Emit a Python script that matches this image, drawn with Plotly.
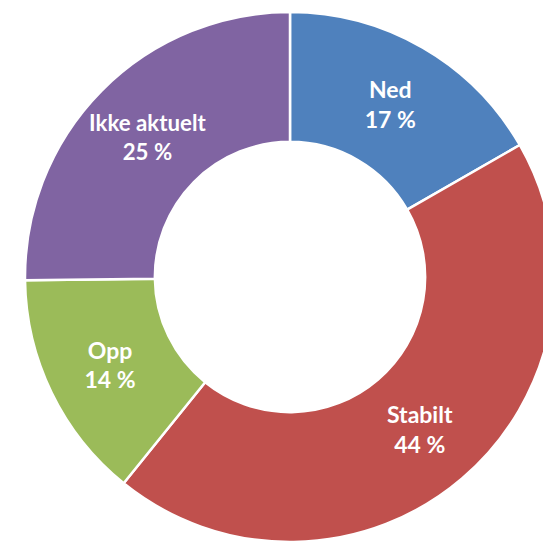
import plotly.graph_objects as go

labels = ["Ned", "Stabilt", "Opp", "Ikke aktuelt"]
values = [16.7, 44.1, 14.0, 25.2]
colors = ["#4F81BD", "#C0504D", "#9BBB59", "#8064A2"]

fig = go.Figure(go.Pie(
    labels=labels,
    values=values,
    hole=0.51,
    sort=False,
    direction="clockwise",
    rotation=0,
    marker=dict(colors=colors, line=dict(color="white", width=2.5)),
    texttemplate="%{label}<br>%{value:.0f} %",
    textposition="inside",
    insidetextorientation="horizontal",
    textfont=dict(family="Lato", size=23, color="white", weight="bold"),
    showlegend=False,
    hoverinfo="label+value",
))

fig.update_layout(
    width=555,
    height=542,
    margin=dict(l=25, r=0, t=12, b=0, pad=0),
    paper_bgcolor="white",
    plot_bgcolor="white",
)

fig.write_html(
    "out.html",
    config={"displayModeBar": False},
    post_script="document.body.style.margin='0';document.body.style.overflow='hidden';document.documentElement.style.overflow='hidden';",
)
